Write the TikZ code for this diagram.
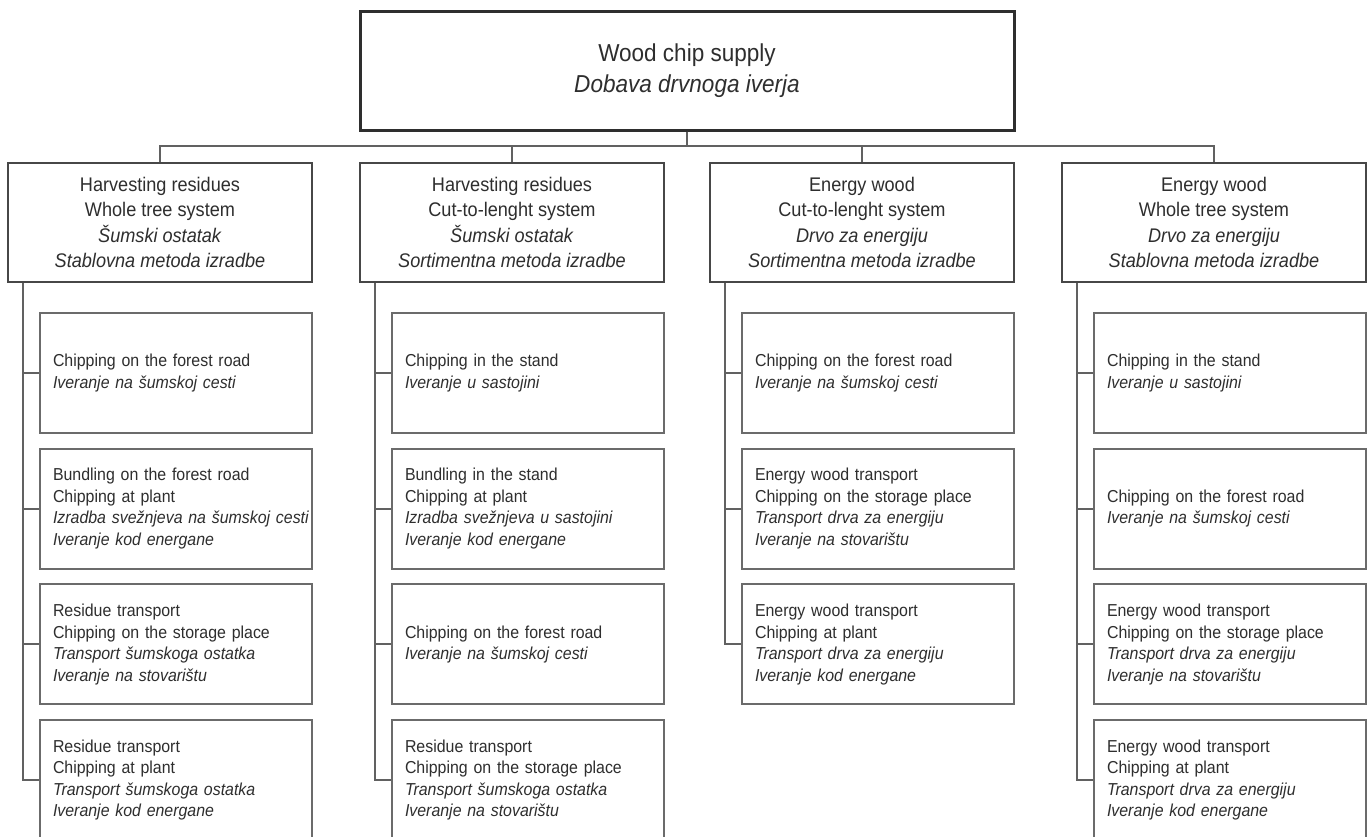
\documentclass[tikz,border=0pt]{standalone}
\usepackage{fontspec}
\setmainfont{Liberation Sans}[FakeStretch=0.92]
\begin{document}
\begin{tikzpicture}[x=1pt,y=-1pt,
  txt/.style={text=black!82},
  topbox/.style={draw=black!82,line width=3pt,minimum width=654pt,minimum height=119pt,inner sep=0pt,align=center,txt,font=\fontsize{24.5}{31}\selectfont},
  lvlbox/.style={draw=black!72,line width=2pt,minimum width=304pt,minimum height=119pt,inner sep=0pt,align=center,txt,font=\fontsize{19.7}{25.3}\selectfont},
  leafbox/.style={draw=black!58,line width=2pt,minimum width=272pt,minimum height=120pt,inner xsep=13pt,inner ysep=0pt,text width=246pt,align=left,txt,font=\fontsize{17.3}{21.5}\selectfont},
  conn/.style={draw=black!62,line width=2pt}]
\useasboundingbox (0,0) rectangle (1370,836);
\fill[white] (0,0) rectangle (1370,836);
\clip (0,0) rectangle (1370,836);
\coordinate (bus) at (0,146);

\node[topbox] (top) at (687,70.5) {Wood chip supply\\\textit{Dobava drvnoga iverja}};

\node[lvlbox] (a) at (160,222.5) {Harvesting residues\\Whole tree system\\\textit{Šumski ostatak}\\\textit{Stablovna metoda izradbe}};
\node[lvlbox] (b) at (512,222.5) {Harvesting residues\\Cut-to-lenght system\\\textit{Šumski ostatak}\\\textit{Sortimentna metoda izradbe}};
\node[lvlbox] (c) at (862,222.5) {Energy wood\\Cut-to-lenght system\\\textit{Drvo za energiju}\\\textit{Sortimentna metoda izradbe}};
\node[lvlbox] (d) at (1214,222.5) {Energy wood\\Whole tree system\\\textit{Drvo za energiju}\\\textit{Stablovna metoda izradbe}};

\foreach \n in {a,b,c,d}
  \draw[conn] (top.south) -- (top.south |- bus) -| (\n.north);

% column a
\node[leafbox] (a1) at (176,373) {Chipping on the forest road\\\textit{Iveranje na šumskoj cesti}};
\node[leafbox] (a2) at (176,508.7) {Bundling on the forest road\\Chipping at plant\\\mbox{\textit{Izradba svežnjeva na šumskoj cesti}}\\\textit{Iveranje kod energane}};
\node[leafbox] (a3) at (176,644.3) {Residue transport\\Chipping on the storage place\\\textit{Transport šumskoga ostatka}\\\textit{Iveranje na stovarištu}};
\node[leafbox] (a4) at (176,780) {Residue transport\\Chipping at plant\\\textit{Transport šumskoga ostatka}\\\textit{Iveranje kod energane}};

% column b
\node[leafbox] (b1) at (528,373) {Chipping in the stand\\\textit{Iveranje u sastojini}};
\node[leafbox] (b2) at (528,508.7) {Bundling in the stand\\Chipping at plant\\\textit{Izradba svežnjeva u sastojini}\\\textit{Iveranje kod energane}};
\node[leafbox] (b3) at (528,644.3) {Chipping on the forest road\\\textit{Iveranje na šumskoj cesti}};
\node[leafbox] (b4) at (528,780) {Residue transport\\Chipping on the storage place\\\textit{Transport šumskoga ostatka}\\\textit{Iveranje na stovarištu}};

% column c
\node[leafbox] (c1) at (878,373) {Chipping on the forest road\\\textit{Iveranje na šumskoj cesti}};
\node[leafbox] (c2) at (878,508.7) {Energy wood transport\\Chipping on the storage place\\\textit{Transport drva za energiju}\\\textit{Iveranje na stovarištu}};
\node[leafbox] (c3) at (878,644.3) {Energy wood transport\\Chipping at plant\\\textit{Transport drva za energiju}\\\textit{Iveranje kod energane}};

% column d
\node[leafbox] (d1) at (1230,373) {Chipping in the stand\\\textit{Iveranje u sastojini}};
\node[leafbox] (d2) at (1230,508.7) {Chipping on the forest road\\\textit{Iveranje na šumskoj cesti}};
\node[leafbox] (d3) at (1230,644.3) {Energy wood transport\\Chipping on the storage place\\\textit{Transport drva za energiju}\\\textit{Iveranje na stovarištu}};
\node[leafbox] (d4) at (1230,780) {Energy wood transport\\Chipping at plant\\\textit{Transport drva za energiju}\\\textit{Iveranje kod energane}};

\foreach \p/\k in {a/a1,a/a2,a/a3,a/a4,b/b1,b/b2,b/b3,b/b4,c/c1,c/c2,c/c3,d/d1,d/d2,d/d3,d/d4}
  \draw[conn] ([xshift=16pt]\p.south west) |- (\k.west);
\end{tikzpicture}
\end{document}
